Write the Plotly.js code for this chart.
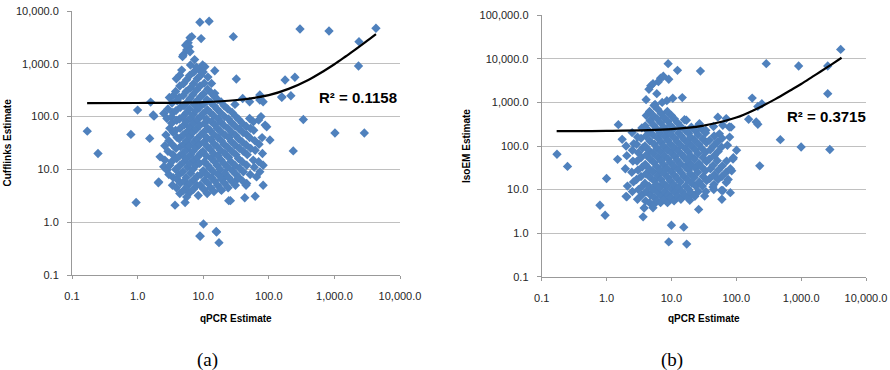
<!DOCTYPE html>
<html>
<head>
<meta charset="utf-8">
<script src="https://cdn.plot.ly/plotly-3.0.1.min.js"></script>
<style>
html,body{margin:0;padding:0;background:#fff;}
#chart{width:890px;height:370px;}
</style>
</head>
<body>
<div id="chart"></div>
<script>
// ---------- DATA ----------
const tickVals = [0.1, 1, 10, 100, 1000, 10000, 100000];
const tickText = ['0.1', '1.0', '10.0', '100.0', '1,000.0', '10,000.0', '100,000.0'];

// (a) qPCR vs Cufflinks: [qPCR, Cufflinks]
const cufflinksPoints = [
  [0.171,53],[0.249,20],[0.79,46],[1.0,133],[1.53,38.6],[1.58,188],[1.78,102],[0.95,2.36],[3.72,2.1],[5.3,2.36],
  [9.0,0.54],[10.1,0.925],[15.8,0.67],[17.4,0.41],[19,4.0],[24.5,2.56],[26,2.56],[43,2.9],[62,3.1],[45,5],[82,5],
  [8.9,6130],[12.3,6400],[28.8,3270],[9.3,3000],[6.3,3130],[6.7,3270],[6.1,2100],[5.6,1830],[6.3,1690],[4.96,1470],
  [4.85,1365],[6.4,950],[9.8,950],[8.9,760],[15,740],[4.7,760],[4.4,610],[32,515],[177,493],[250,555],[158,231],
  [217,248],[299,4570],[828,4190],[4300,4720],[2370,2630],[2330,908],[336,88],[1020,49],[2860,49],[236,22.4],
  [73,256],[82,191],[76,100],[104,36],[93,64],[51,191],[40,220],[73,206],[158,237],[1.73,107],[2.5,115],[2.8,92],
  [3.3,99],[51,92],[58,80],[70,86],[88,69],[2.07,5.6],[8.4,3.2],[5.6,4.0],[6.3,3.7],[21.5,7.2],[32,6.25],[65,7.2],
  [73,9],[82,12],[46,5.4],[58,15],[62,23],[16,0.65],[8.9,0.55],[13.4,425],[15,276],[2.1,5.8],[2.2,17.3],[2.5,11.2],
  [2.8,9.7],[2.6,15],[5.9,2500],[5.4,2250],[7.4,1200],[10.6,880],[11.8,560],
  [2.6,28],[2.7,45],
  [3.0,8],[3.1,12],[2.9,22],[3.0,35],[3.1,60],[2.9,140],[3.05,230],
  [3.4,5],[3.5,7],[3.3,14],[3.45,19],[3.35,30],[3.5,50],[3.3,75],[3.45,120],[3.35,180],[3.5,250],
  [3.9,4.5],[4.0,6.5],[3.8,10],[3.95,16],[3.85,25],[4.0,40],[3.8,55],[3.95,85],[3.85,130],[4.0,200],[3.8,300],[3.9,520],
  [4.4,3.5],[4.5,5.5],[4.3,8],[4.45,12],[4.35,18],[4.5,27],[4.3,38],[4.45,60],[4.35,90],[4.5,150],[4.3,230],[4.4,380],
  [5.0,4],[5.15,6],[4.9,9],[5.1,14],[4.85,20],[5.05,30],[4.95,45],[5.15,70],[4.9,100],[5.1,160],[4.95,250],[5.0,420],
  [5.6,3],[5.7,4.8],[5.5,7],[5.75,11],[5.45,16],[5.65,24],[5.55,35],[5.7,52],[5.5,80],[5.6,120],[5.75,190],[5.5,300],[5.6,500],
  [6.3,5.5],[6.45,8.5],[6.2,13],[6.4,19],[6.15,28],[6.35,42],[6.25,63],[6.45,95],[6.2,140],[6.3,220],[6.4,350],[6.2,600],
  [7.1,4.2],[7.3,6.5],[6.95,10],[7.2,15],[7.0,22],[7.25,33],[6.9,50],[7.15,75],[7.05,110],[7.3,170],[6.95,260],[7.1,420],[7.2,700],
  [8.0,5],[8.2,7.5],[7.8,12],[8.15,17],[7.85,26],[8.1,38],[7.9,58],[8.2,88],[7.8,130],[8.05,200],[7.95,320],[8.1,520],[7.9,860],
  [9.0,5],[9.25,8],[8.8,13],[9.15,20],[8.85,30],[9.2,45],[8.9,68],[9.1,100],[8.8,150],[9.2,240],[8.95,380],[9.1,600],
  [10.2,4.2],[10.5,6.2],[10.0,9.5],[10.4,14],[9.9,22],[10.3,33],[10.05,50],[10.45,75],[9.95,115],[10.3,175],[10.1,270],[10.4,430],[10.0,700],
  [11.5,3.5],[11.8,5.5],[11.3,8],[11.7,12],[11.2,18],[11.6,27],[11.35,40],[11.75,60],[11.25,90],[11.6,135],[11.4,210],[11.7,330],
  [13,4.5],[13.4,7],[12.7,10.5],[13.3,16],[12.8,24],[13.2,36],[12.9,54],[13.4,80],[12.75,120],[13.1,185],[13.3,280],
  [14.6,3.8],[15.0,6],[14.3,9],[14.9,14],[14.4,20],[14.8,30],[14.5,46],[15.0,70],[14.3,105],[14.7,160],[14.9,240],
  [16.5,5],[16.9,8],[16.2,12],[16.8,18],[16.3,27],[16.7,40],[16.4,60],[16.9,90],[16.2,140],[16.6,210],
  [18.5,4.2],[19.0,6.5],[18.2,10],[18.8,15],[18.3,23],[18.9,35],[18.4,52],[18.7,78],[18.2,120],[18.8,190],
  [21,5.5],[21.5,8.5],[20.6,13],[21.3,20],[20.8,30],[21.4,45],[20.7,68],[21.2,100],[20.9,160],
  [24,4.5],[24.6,7],[23.5,11],[24.4,17],[23.7,26],[24.5,40],[23.8,60],[24.3,90],[23.6,140],
  [27,6],[27.7,9.5],[26.5,14],[27.5,22],[26.7,34],[27.4,50],[26.8,78],[27.6,120],
  [31,5],[31.8,8],[30.4,12],[31.6,19],[30.6,29],[31.4,44],[30.8,66],[31.5,100],[30.5,170],
  [35,7],[35.9,10.5],[34.4,16],[35.7,25],[34.6,38],[35.5,58],[34.8,88],
  [40,6],[41,9],[39.2,14],[40.8,22],[39.5,33],[40.6,50],[39.4,75],
  [46,12],[47,19],[45.2,29],[46.6,45],[45.5,65],
  [52,8],[53,25],[51,40],[52.5,60],
  [60,11],[61,35],[59,55],
  [70,14],[71,30],[80,20],[79,40]
];

// (b) qPCR vs IsoEM: [qPCR, IsoEM]
const isoemPoints = [
  [0.172,64.5],[0.25,34],[1.0,17.9],[1.48,49.5],[1.52,309],[1.74,142],[2.48,203],[2.63,113],[3.9,259],[0.79,4.36],
  [0.95,2.57],[2.05,6.8],[3.66,2.37],[3.8,3.78],[9.1,0.63],[10,1.52],[15.5,1.37],[17.2,0.56],[26.3,3.5],[19.2,5.7],
  [32.5,7.1],[60,6.0],[81,8.5],[62,9.5],[45,10],[8.9,7760],[12.4,5460],[28,5250],[9.1,3400],[6.8,3600],[7.5,4000],
  [4.5,2000],[4.8,2400],[5.2,2700],[5.95,1590],[4.07,1160],[8.5,1100],[10.5,1250],[14.7,1290],[176,1260],[248,935],
  [215,810],[290,7760],[915,6840],[2570,6840],[2570,1590],[4070,16500],[155,410],[215,314],[478,140],[230,35],
  [1000,95],[2770,83],[70,425],[52,460],[78,273],[101,80],[90,54],[73,104],[85,27],[75,17],[5.2,3.8],[89,50],
  [70,14.5],[59,9.6],[43.7,11.4],[6.3,3000],[7.2,1000],[5.6,900],
  [83,272],[62,300],[55,190],[79,160],[203,355],[34,229],[17,390],[27,326],
  [2.0,7],[2.1,12],[1.95,30],[2.05,60],[2.0,100],
  [2.5,9],[2.6,15],[2.45,25],[2.55,45],[2.5,80],
  [3.0,6],[3.1,10],[2.9,17],[3.05,28],[2.95,45],[3.1,70],[2.9,110],[3.0,160],
  [3.5,7.5],[3.6,12],[3.4,20],[3.55,33],[3.45,55],[3.6,90],[3.4,150],[3.5,260],
  [4.0,5.5],[4.1,9],[3.9,14],[4.05,23],[3.95,38],[4.1,62],[3.9,100],[4.05,170],[3.95,290],[4.1,500],
  [4.6,5],[4.75,7.5],[4.5,12],[4.7,19],[4.55,30],[4.7,50],[4.5,80],[4.65,130],[4.55,220],[4.7,380],[4.6,620],
  [5.3,4.5],[5.45,6.5],[5.2,10],[5.4,16],[5.15,26],[5.35,42],[5.25,68],[5.45,110],[5.2,180],[5.35,300],[5.25,500],[5.4,850],
  [6.0,5.5],[6.2,8.5],[5.85,13],[6.1,21],[5.9,34],[6.15,55],[5.95,90],[6.2,150],[5.9,250],[6.05,420],[6.15,700],
  [6.8,5],[7.0,7],[6.65,11],[6.9,17],[6.7,28],[6.95,45],[6.75,75],[7.0,120],[6.65,200],[6.85,340],[6.95,560],
  [7.7,6],[7.9,9],[7.5,14],[7.85,23],[7.6,37],[7.8,60],[7.55,100],[7.9,165],[7.6,270],[7.75,450],
  [8.7,5],[8.95,7.5],[8.5,12],[8.85,19],[8.55,31],[8.9,50],[8.6,82],[8.8,135],[8.5,220],[8.85,370],[8.65,620],
  [9.8,6.5],[10.1,10],[9.6,16],[10.0,26],[9.65,42],[10.05,68],[9.7,110],[9.95,180],[9.6,300],[10.0,500],
  [11,5.5],[11.3,8.5],[10.8,13],[11.2,21],[10.85,35],[11.3,57],[10.9,92],[11.25,150],[10.8,250],[11.1,420],
  [12.5,7],[12.9,11],[12.2,18],[12.8,29],[12.3,47],[12.7,77],[12.25,125],[12.85,200],[12.4,340],
  [14,6],[14.4,9],[13.7,15],[14.3,24],[13.8,39],[14.35,64],[13.75,105],[14.2,170],[13.9,280],
  [16,7.5],[16.5,12],[15.6,20],[16.4,33],[15.7,54],[16.3,88],[15.8,140],[16.4,230],[15.9,400],
  [18,6.5],[18.5,10],[17.6,17],[18.4,28],[17.7,45],[18.3,73],[17.8,120],[18.4,195],
  [20,8.5],[20.6,14],[19.6,23],[20.4,37],[19.7,60],[20.5,100],[19.8,160],[20.3,270],
  [23,7],[23.7,12],[22.5,19],[23.5,31],[22.6,50],[23.4,82],[22.7,135],[23.6,220],
  [26,9],[26.8,15],[25.4,25],[26.6,40],[25.6,66],[26.5,110],[25.7,180],[26.3,300],
  [30,12],[30.9,20],[29.3,33],[30.7,54],[29.5,88],[30.6,145],[29.6,240],
  [34,9],[35,16],[33.3,27],[34.8,44],[33.5,72],[34.6,120],[33.6,200],
  [39,18],[40,30],[38.2,50],[39.7,82],[38.5,135],
  [45,13],[46,22],[44,36],[45.8,60],[44.4,100],[45.6,170],[44.6,280],
  [52,17],[53,28],[51,46],[52.6,75],[51.3,125],
  [60,20],[61,35],[59,95],[60.5,150],
  [70,25],[71,45],[81,30]
];

// Trend lines
const cuffTrendX = [0.17, 1, 10, 30, 100, 200, 400, 700, 1000, 1500, 2000, 3000, 4300];
const cuffTrendY = [180, 181, 188, 204, 255, 335, 495, 740, 980, 1390, 1790, 2600, 3660];
const isoTrendX  = [0.17, 1, 10, 30, 100, 200, 400, 700, 1000, 1500, 2000, 3000, 4200];
const isoTrendY  = [220, 222, 244, 290, 450, 700, 1190, 1930, 2650, 3900, 5130, 7600, 10600];

const r2Texts = ['R² = 0.1158', 'R² = 0.3715'];
const yTitles = ['Cufflinks Estimate', 'IsoEM Estimate'];
const xTitle = 'qPCR Estimate';
const captions = ['(a)', '(b)'];

// ---------- STYLE ----------
const blue = '#4F81BD';
const tickFont = {family: 'Liberation Sans, Arial, sans-serif', size: 11, color: '#262626'};
const titleFont = {family: 'Liberation Sans, Arial, sans-serif', size: 10, color: '#000', weight: 'bold'};
const markerStyle = {symbol: 'diamond', size: 7.2, color: blue, line: {width: 0}};

const traces = [
  {x: cufflinksPoints.map(p => p[0]), y: cufflinksPoints.map(p => p[1]), type: 'scatter', mode: 'markers',
   marker: markerStyle, xaxis: 'x', yaxis: 'y', hoverinfo: 'skip'},
  {x: cuffTrendX, y: cuffTrendY, type: 'scatter', mode: 'lines',
   line: {color: '#000', width: 2.2, shape: 'spline'}, xaxis: 'x', yaxis: 'y', hoverinfo: 'skip'},
  {x: isoemPoints.map(p => p[0]), y: isoemPoints.map(p => p[1]), type: 'scatter', mode: 'markers',
   marker: markerStyle, xaxis: 'x2', yaxis: 'y2', hoverinfo: 'skip'},
  {x: isoTrendX, y: isoTrendY, type: 'scatter', mode: 'lines',
   line: {color: '#000', width: 2.2, shape: 'spline'}, xaxis: 'x2', yaxis: 'y2', hoverinfo: 'skip'}
];

function xAxis(domain, anchor) {
  return {type: 'log', range: [-1, 4], domain: domain, anchor: anchor,
    tickmode: 'array', tickvals: tickVals.slice(0, 6), ticktext: tickText.slice(0, 6),
    ticks: 'outside', ticklen: 3, tickcolor: '#999', tickwidth: 1,
    showline: true, linecolor: '#999', linewidth: 1, showgrid: false, zeroline: false,
    tickfont: tickFont, ticklabelstandoff: 8, fixedrange: true};
}
function yAxis(domain, anchor, top) {
  return {type: 'log', range: [-1, top], domain: domain, anchor: anchor,
    tickmode: 'array', tickvals: tickVals.slice(0, top + 2), ticktext: tickText.slice(0, top + 2),
    ticks: 'outside', ticklen: 4, tickcolor: '#999', tickwidth: 1,
    showline: true, linecolor: '#999', linewidth: 1, showgrid: true, gridcolor: '#c0c0c0', gridwidth: 1,
    zeroline: false, tickfont: tickFont, ticklabelstandoff: 6, fixedrange: true};
}

const W = 890, H = 370;
const px = v => v / W, py = v => (H - v) / H;

const layout = {
  width: W, height: H, margin: {l: 0, r: 0, t: 0, b: 0},
  paper_bgcolor: '#fff', plot_bgcolor: '#fff', showlegend: false,
  xaxis: xAxis([px(72), px(400)], 'y'),
  yaxis: yAxis([py(275), py(11)], 'x', 4),
  xaxis2: xAxis([px(541.7), px(866)], 'y2'),
  yaxis2: yAxis([py(276.7), py(15.3)], 'x2', 5),
  annotations: [
    {text: r2Texts[0], xref: 'paper', yref: 'paper', x: px(358), y: py(97), xanchor: 'center', yanchor: 'middle',
     showarrow: false, font: {family: 'Liberation Sans, Arial, sans-serif', size: 15, color: '#000', weight: 'bold'}},
    {text: r2Texts[1], xref: 'paper', yref: 'paper', x: px(826), y: py(116.7), xanchor: 'center', yanchor: 'middle',
     showarrow: false, font: {family: 'Liberation Sans, Arial, sans-serif', size: 15, color: '#000', weight: 'bold'}},
    {text: xTitle, xref: 'paper', yref: 'paper', x: px(236), y: py(318), xanchor: 'center', yanchor: 'middle',
     showarrow: false, font: titleFont},
    {text: xTitle, xref: 'paper', yref: 'paper', x: px(704), y: py(318.5), xanchor: 'center', yanchor: 'middle',
     showarrow: false, font: titleFont},
    {text: yTitles[0], xref: 'paper', yref: 'paper', x: px(6.5), y: py(143), xanchor: 'center', yanchor: 'middle',
     textangle: -90, showarrow: false, font: titleFont},
    {text: yTitles[1], xref: 'paper', yref: 'paper', x: px(466), y: py(146), xanchor: 'center', yanchor: 'middle',
     textangle: -90, showarrow: false, font: titleFont},
    {text: captions[0], xref: 'paper', yref: 'paper', x: px(207), y: py(360), xanchor: 'center', yanchor: 'middle',
     showarrow: false, font: {family: 'Liberation Serif, Times New Roman, serif', size: 19, color: '#000'}},
    {text: captions[1], xref: 'paper', yref: 'paper', x: px(672), y: py(360), xanchor: 'center', yanchor: 'middle',
     showarrow: false, font: {family: 'Liberation Serif, Times New Roman, serif', size: 19, color: '#000'}}
  ]
};

Plotly.newPlot('chart', traces, layout, {staticPlot: true, displayModeBar: false});
</script>
</body>
</html>
